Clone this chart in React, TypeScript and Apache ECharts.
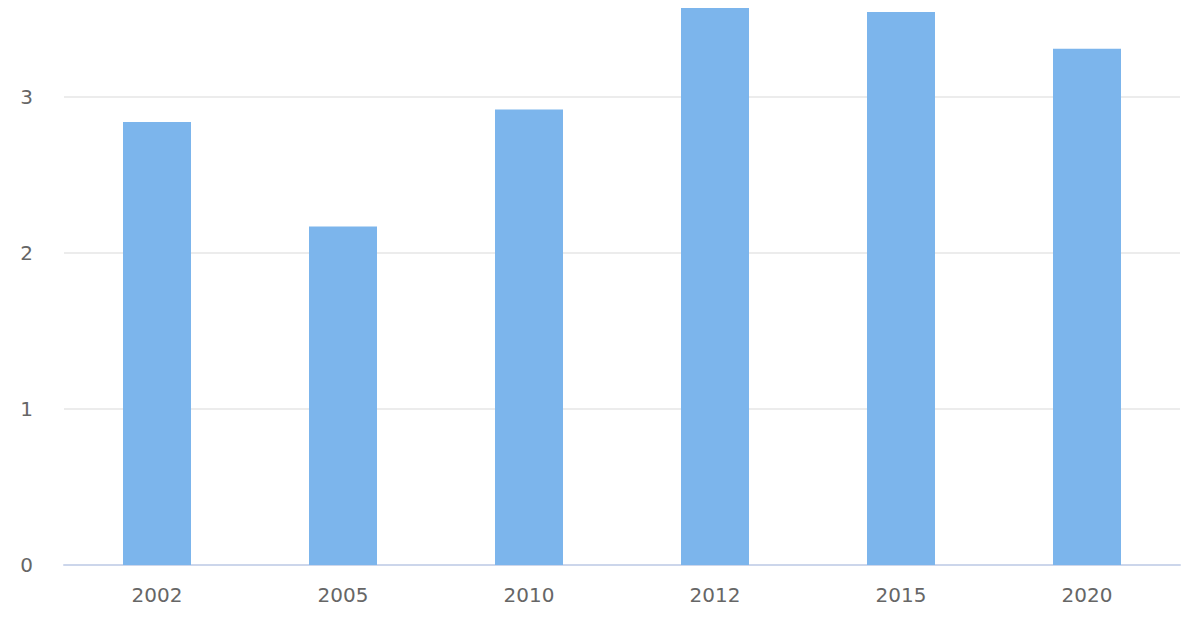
import React, { useEffect, useRef } from 'react';
import * as echarts from 'echarts';

const years = ['2002', '2005', '2010', '2012', '2015', '2020'];
const values = [2.84, 2.17, 2.92, 3.7, 3.545, 3.31];

const App: React.FC = () => {
  const chartRef = useRef<HTMLDivElement>(null);

  useEffect(() => {
    if (!chartRef.current) return;
    const chart = echarts.init(chartRef.current, undefined, { renderer: 'svg' });
    const font = "'DejaVu Sans', Verdana, sans-serif";
    chart.setOption({
      animation: false,
      backgroundColor: '#fff',
      // top of the plot runs past the page edge, as in the reference
      grid: { left: 64, right: 20, top: -59, bottom: 75, outerBoundsMode: 'none' },
      xAxis: {
        type: 'category',
        data: years,
        axisLine: { lineStyle: { color: '#ccd6eb', width: 2 } },
        axisTick: { show: false },
        axisLabel: { color: '#666', fontSize: 20, fontFamily: font, margin: 20 },
      },
      yAxis: {
        type: 'value',
        min: 0,
        max: 4,
        interval: 1,
        axisLine: { show: false },
        axisTick: { show: false },
        splitLine: { lineStyle: { color: '#e6e6e6', width: 1.5 } },
        axisLabel: { color: '#666', fontSize: 20, fontFamily: font, margin: 31, showMaxLabel: false },
      },
      series: [
        {
          type: 'bar',
          data: values,
          barWidth: 68,
          itemStyle: { color: '#7cb5ec' },
        },
      ],
    });
    return () => chart.dispose();
  }, []);

  return <div ref={chartRef} style={{ width: 1200, height: 640, margin: -8 }} />;
};

export default App;
